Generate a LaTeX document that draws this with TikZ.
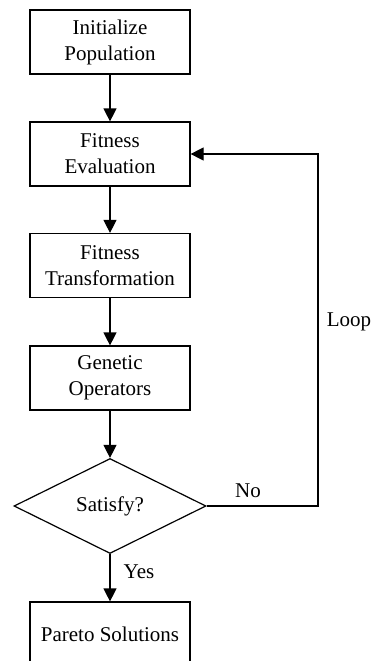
\documentclass[tikz,border=0pt]{standalone}
\usepackage{fontspec}
\setmainfont{Liberation Serif}
\usetikzlibrary{shapes.geometric,arrows.meta}
\begin{document}
\begin{tikzpicture}[x=1pt,y=-1pt,
  every node/.style={font=\fontsize{21}{26}\selectfont},
  stepbox/.style={draw, line width=1.2pt, minimum width=160pt, minimum height=64pt, inner sep=0pt, align=center},
  decision/.style={draw, diamond, line width=1.2pt, minimum width=192pt, minimum height=95pt, inner sep=0pt, aspect=2},
  conn/.style={line width=1.2pt, -{Triangle[length=13pt,width=13pt]}},
  lbl/.style={inner sep=0pt}]
\useasboundingbox (0,0) rectangle (377,661);
\node[stepbox] (init) at (110,42) {Initialize\\Population};
\node[stepbox] (fe) at (110,154) {Fitness\\Evaluation};
\node[stepbox] (ft) at (110,265.5) {Fitness\\Transformation};
\node[stepbox] (go) at (110,378) {Genetic\\Operators};
\node[decision] (dec) at (110,506) {Satisfy?};
\node[stepbox] (ps) at (110,634) {Pareto Solutions};
\coordinate (c1) at (318,506);
\coordinate (c2) at (318,154);
\draw[conn] (init) -- (fe);
\draw[conn] (fe) -- (ft);
\draw[conn] (ft) -- (go);
\draw[conn] (go) -- (dec);
\draw[conn] (dec) -- (ps);
\draw[conn] (dec.east) -- (c1) -- (c2) -- (fe.east);
\node[lbl] (no) at (248,491) {No};
\node[lbl] (yes) at (139,572) {Yes};
\node[lbl] (loop) at (349,322) {Loop};
\end{tikzpicture}
\end{document}
